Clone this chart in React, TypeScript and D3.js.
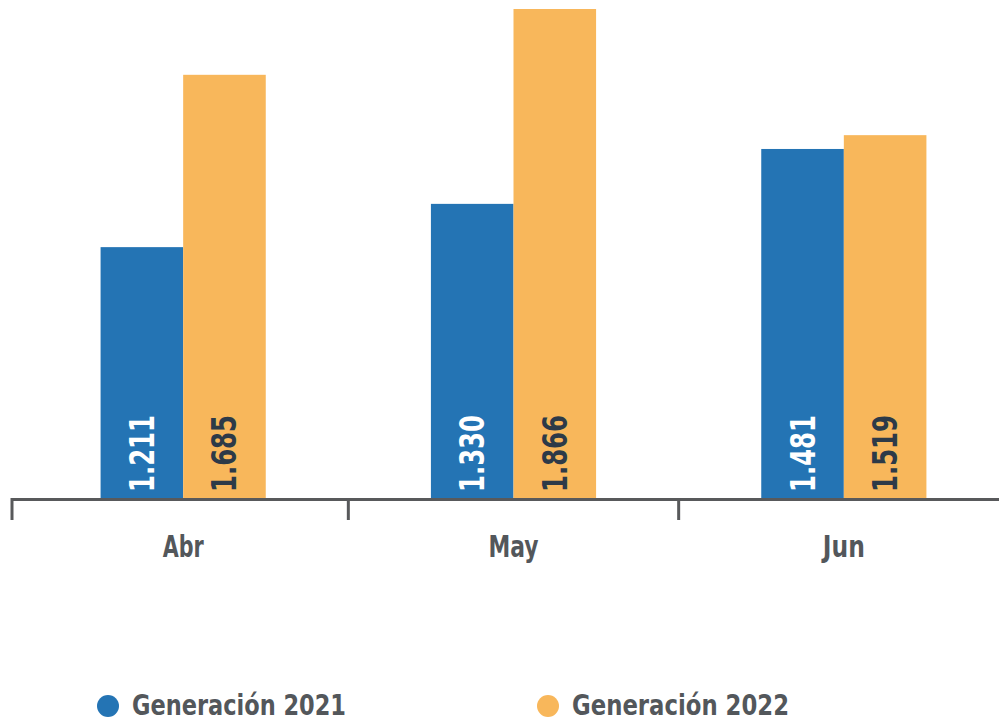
import { useRef, useEffect } from 'react';
import * as d3 from 'd3';

const categories = ['Abr', 'May', 'Jun'];
const seriesNames = ['Generación 2021', 'Generación 2022'];
const gen2021 = [1211, 1330, 1481];
const gen2022 = [1685, 1866, 1519];

const COLORS = ['#2474b4', '#f8b75b'];
const LABEL_COLORS = ['#ffffff', '#2d3a48'];
const FONT = '"DejaVu Sans Condensed", "DejaVu Sans", sans-serif';

export default function App() {
    const ref = useRef<SVGSVGElement>(null);

    useEffect(() => {
        if (!ref.current) return;
        const svg = d3.select(ref.current);
        svg.selectAll('*').remove();

        const width = 999;
        const height = 721;
        const baseY = 498;

        const data = categories.map((c, i) => ({ cat: c, values: [gen2021[i], gen2022[i]] }));

        const x = d3.scaleBand().domain(categories).range([18, 1009]).padding(0);
        const x1 = d3.scaleBand()
            .domain(['0', '1'])
            .range([x.bandwidth() * 0.25, x.bandwidth() * 0.75])
            .padding(0);
        // axis does not start at zero in the original
        const y = d3.scaleLinear().domain([521, 1866]).range([baseY, 9]);

        // bars
        const groups = svg.selectAll('.grp')
            .data(data)
            .enter()
            .append('g')
            .attr('transform', d => `translate(${x(d.cat)},0)`);

        groups.selectAll('rect')
            .data(d => d.values.map((v, i) => ({ v, i })))
            .enter()
            .append('rect')
            .attr('x', d => x1(String(d.i))!)
            .attr('y', d => y(d.v))
            .attr('width', x1.bandwidth())
            .attr('height', d => baseY - y(d.v))
            .attr('fill', d => COLORS[d.i]);

        groups.selectAll('.lbl')
            .data(d => d.values.map((v, i) => ({ v, i })))
            .enter()
            .append('text')
            .attr('transform', d => `translate(${x1(String(d.i))! + x1.bandwidth() / 2 + 12},${baseY - 6}) rotate(-90)`)
            .attr('fill', d => LABEL_COLORS[d.i])
            .attr('font-family', FONT)
            .attr('font-weight', 700)
            .attr('font-size', '33px')
            .attr('textLength', 77)
            .attr('lengthAdjust', 'spacingAndGlyphs')
            .text(d => d3.format(',')(d.v).replace(',', '.'));

        // axis
        svg.append('line')
            .attr('x1', 12).attr('x2', width)
            .attr('y1', baseY + 1.5).attr('y2', baseY + 1.5)
            .attr('stroke', '#58595b').attr('stroke-width', 3);

        const tickXs = [12, x('May')!, x('Jun')!];
        svg.selectAll('.tick')
            .data(tickXs)
            .enter()
            .append('line')
            .attr('x1', d => d).attr('x2', d => d)
            .attr('y1', baseY).attr('y2', 520)
            .attr('stroke', '#58595b').attr('stroke-width', 3);

        const catLen: Record<string, number> = { Abr: 41, May: 50, Jun: 42 };
        svg.selectAll('.cat')
            .data(categories)
            .enter()
            .append('text')
            .attr('x', d => x(d)! + x.bandwidth() / 2 - catLen[d] / 2)
            .attr('y', 557)
            .attr('fill', '#53575b')
            .attr('font-family', FONT)
            .attr('font-weight', 700)
            .attr('font-size', '31px')
            .attr('textLength', d => catLen[d])
            .attr('lengthAdjust', 'spacingAndGlyphs')
            .text(d => d);

        // legend
        const legX = [108, 548];
        const legLen = [214, 217];
        const leg = svg.selectAll('.leg')
            .data(seriesNames)
            .enter()
            .append('g')
            .attr('transform', (_, i) => `translate(${legX[i]},706)`);
        leg.append('circle').attr('r', 11).attr('fill', (_, i) => COLORS[i]);
        leg.append('text')
            .attr('x', 24)
            .attr('y', 9)
            .attr('fill', '#53575b')
            .attr('font-family', FONT)
            .attr('font-weight', 700)
            .attr('font-size', '29px')
            .attr('textLength', (_, i) => legLen[i])
            .attr('lengthAdjust', 'spacingAndGlyphs')
            .text(d => d);

        svg.attr('width', width).attr('height', height);
    }, []);

    return (
        <svg ref={ref} width={999} height={721}
            style={{ position: 'absolute', left: 0, top: 0, background: '#fff' }} />
    );
}
